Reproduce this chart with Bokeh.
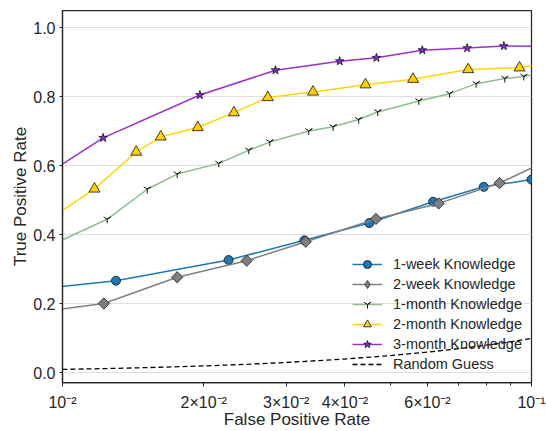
from bokeh.plotting import figure
from bokeh.models import Range1d, FixedTicker, Legend, LegendItem, NumeralTickFormatter
from bokeh.embed import file_html
from bokeh.resources import INLINE
import numpy as np

# ---- data ----
week1_fpr = [0.0085, 0.0130, 0.0226, 0.0328, 0.0451, 0.0617, 0.0791, 0.100]
week1_tpr = [0.240, 0.267, 0.327, 0.384, 0.434, 0.496, 0.539, 0.560]

week2_fpr = [0.0085, 0.01225, 0.01756, 0.0247, 0.0330, 0.0466, 0.0634, 0.0855, 0.115]
week2_tpr = [0.172, 0.201, 0.277, 0.325, 0.380, 0.446, 0.491, 0.550, 0.632]

month1_fpr = [0.0085, 0.01245, 0.01516, 0.01756, 0.02154, 0.02495, 0.02767, 0.03351,
              0.03777, 0.0428, 0.0470, 0.0575, 0.0669, 0.0762, 0.0877, 0.0963, 0.11]
month1_tpr = [0.341, 0.445, 0.532, 0.576, 0.607, 0.645, 0.669, 0.701,
              0.713, 0.734, 0.756, 0.788, 0.809, 0.838, 0.853, 0.859, 0.873]

month2_fpr = [0.0085, 0.0117, 0.01436, 0.0162, 0.01943, 0.0232, 0.0274, 0.0342,
              0.04426, 0.0559, 0.0733, 0.0943, 0.11]
month2_tpr = [0.405, 0.533, 0.640, 0.684, 0.711, 0.754, 0.798, 0.814,
              0.835, 0.851, 0.879, 0.884, 0.900]

month3_fpr = [0.0085, 0.01221, 0.01963, 0.02845, 0.0390, 0.0467, 0.0585, 0.0729, 0.0873, 0.11]
month3_tpr = [0.543, 0.681, 0.805, 0.877, 0.903, 0.913, 0.935, 0.941, 0.947, 0.946]

random_fpr = [0.01, 0.0125, 0.015, 0.02, 0.025, 0.03, 0.04, 0.05, 0.06, 0.07, 0.08, 0.09, 0.1]
random_tpr = [0.01, 0.0125, 0.015, 0.02, 0.025, 0.03, 0.04, 0.05, 0.06, 0.07, 0.08, 0.09, 0.1]

labels = ["1-week Knowledge", "2-week Knowledge", "1-month Knowledge",
          "2-month Knowledge", "3-month Knowledge", "Random Guess"]

x_major = [0.01, 0.02, 0.03, 0.04, 0.06, 0.1]
x_minor = [0.05, 0.07, 0.08, 0.09]
x_tick_labels = ["10\u207b\u00b2", "2\u00d710\u207b\u00b2", "3\u00d710\u207b\u00b2",
                 "4\u00d710\u207b\u00b2", "6\u00d710\u207b\u00b2", "10\u207b\u00b9"]
y_ticks = [0.0, 0.2, 0.4, 0.6, 0.8, 1.0]

FONT = "Liberation Sans"
TXT = "#262626"

p = figure(width=546, height=431, x_axis_type="log",
           x_range=Range1d(0.01, 0.1), y_range=Range1d(-0.028, 1.05),
           output_backend="svg", toolbar_location=None,
           min_border_left=62, min_border_right=15, min_border_top=10, min_border_bottom=48)
p.background_fill_color = "white"
p.border_fill_color = "white"
p.outline_line_color = TXT
p.outline_line_width = 1.25

# axes
p.xaxis.ticker = FixedTicker(ticks=x_major, minor_ticks=x_minor)
p.xaxis.major_label_overrides = dict(zip(x_major, x_tick_labels))
p.yaxis.ticker = FixedTicker(ticks=y_ticks)
p.yaxis.formatter = NumeralTickFormatter(format="0.0")
for ax in (p.xaxis[0], p.yaxis[0]):
    ax.axis_line_color = TXT
    ax.axis_line_width = 1.25
    ax.major_tick_line_color = TXT
    ax.minor_tick_line_color = TXT
    ax.major_tick_in = 0
    ax.minor_tick_in = 0
    ax.major_label_text_font = FONT
    ax.major_label_text_font_size = "16px"
    ax.major_label_text_color = TXT
    ax.axis_label_text_font = FONT
    ax.axis_label_text_font_size = "17px"
    ax.axis_label_text_font_style = "normal"
    ax.axis_label_text_color = TXT
p.xaxis.major_tick_out = 4
p.xaxis.minor_tick_out = 3
p.yaxis.major_tick_out = 3
p.yaxis.minor_tick_line_color = None
p.yaxis.major_label_standoff = 4
p.xaxis.major_label_standoff = 7
p.xaxis.axis_label = "False Positive Rate"
p.xaxis.axis_label_standoff = -4
p.yaxis.axis_label = "True Positive Rate"
p.yaxis.axis_label_standoff = 0

p.xgrid.visible = False
p.ygrid.grid_line_color = "#dddddd"
p.ygrid.grid_line_width = 1

items = []

l1 = p.line(week1_fpr, week1_tpr, line_color="#1f77b4", line_width=1.5)
m1 = p.scatter(week1_fpr, week1_tpr, marker="circle", size=9, fill_color="#1f77b4",
               line_color="#111111", line_width=0.8)
items.append(LegendItem(label=labels[0], renderers=[l1, m1]))

l2 = p.line(week2_fpr, week2_tpr, line_color="#808080", line_width=1.5)
# plain diamond (hidden beneath the rotated squares) gives the legend its diamond glyph
m2_leg = p.scatter(week2_fpr, week2_tpr, marker="diamond", size=10,
                   fill_color="#7f7f7f", line_color="#222222", line_width=0.8)
m2 = p.scatter(week2_fpr, week2_tpr, marker="square", angle=np.pi / 4, size=8,
               fill_color="#7f7f7f", line_color="#222222", line_width=0.8)
items.append(LegendItem(label=labels[1], renderers=[l2, m2_leg]))

l3 = p.line(month1_fpr, month1_tpr, line_color="#8fbc8f", line_width=1.5)
m3 = p.scatter(month1_fpr, month1_tpr, marker="y", size=8, line_color="#111111", line_width=1)
items.append(LegendItem(label=labels[2], renderers=[l3, m3]))

l4 = p.line(month2_fpr, month2_tpr, line_color="#ffd700", line_width=1.5)
m4 = p.scatter(month2_fpr, month2_tpr, marker="triangle", size=11, fill_color="#ffd000",
               line_color="#111111", line_width=0.8)
items.append(LegendItem(label=labels[3], renderers=[l4, m4]))

l5 = p.line(month3_fpr, month3_tpr, line_color="#9932cc", line_width=1.5)
m5 = p.scatter(month3_fpr, month3_tpr, marker="star", size=9, fill_color="#8a2be2",
               line_color="#111111", line_width=0.8)
items.append(LegendItem(label=labels[4], renderers=[l5, m5]))

l6 = p.line(random_fpr, random_tpr, line_color="black", line_width=1.3, line_dash="5 3")
items.append(LegendItem(label=labels[5], renderers=[l6]))

legend = Legend(items=items, location=(290, 8))
legend.padding = 0
legend.margin = 0
legend.spacing = 0
legend.glyph_width = 30
legend.glyph_height = 20
legend.label_height = 20
legend.label_standoff = 11
legend.label_text_font = FONT
legend.label_text_font_size = "14.5px"
legend.label_text_color = TXT
legend.background_fill_alpha = 0
legend.border_line_alpha = 0
p.add_layout(legend, "center")

open("out.html", "w").write(file_html(p, INLINE))
